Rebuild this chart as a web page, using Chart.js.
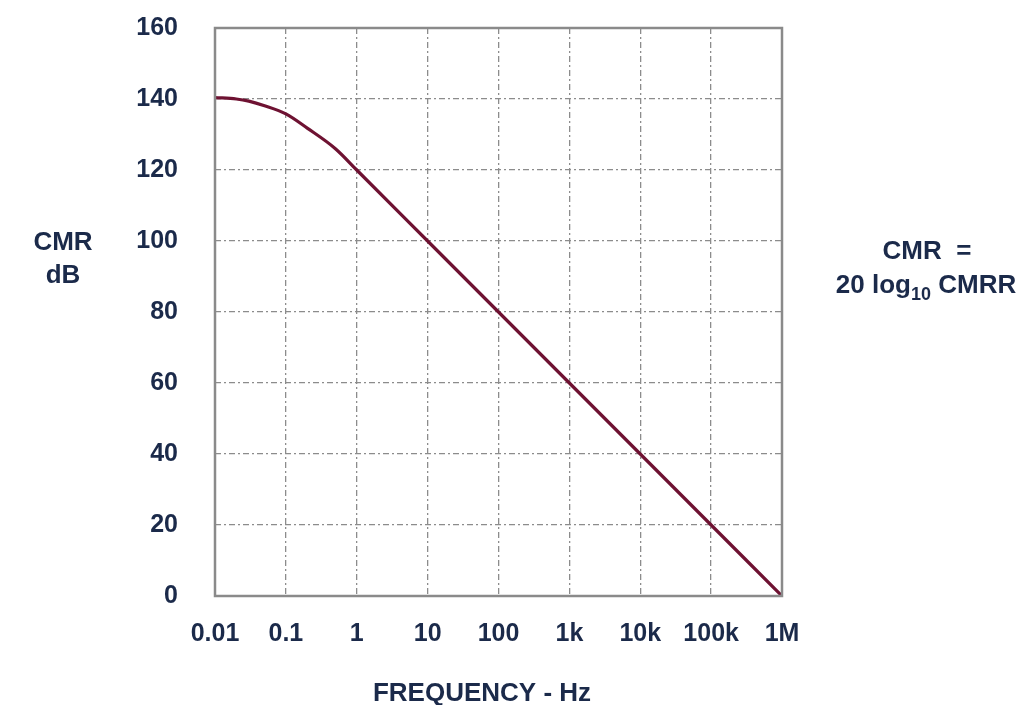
<!DOCTYPE html>
<html>
<head>
<meta charset="utf-8">
<script src="https://cdn.jsdelivr.net/npm/chart.js@4"></script>
<style>
  html, body { margin: 0; padding: 0; background: #fff; }
  #wrap { width: 1024px; height: 705px; }
</style>
</head>
<body>
<div id="wrap"><canvas id="chart" width="1024" height="705"></canvas></div>
<script>
// values
let freqHz = [0.01, 0.02, 0.03, 0.05, 0.1, 0.2, 0.5, 1, 10, 100, 1000, 10000, 100000, 1000000];
let cmrDb = [140.4, 140, 139.4, 138.1, 135.8, 131.8, 126, 120, 100, 80, 60, 40, 20, 0];

let decadeTicks = [0.01, 0.1, 1, 10, 100, 1000, 10000, 100000, 1000000];
let decadeLabels = ["0.01", "0.1", "1", "10", "100", "1k", "10k", "100k", "1M"];

let textColor = "#1b2a4a";
let lineColor = "#6e1232";
let gridColor = "#8c8c8c";
let font = "'Liberation Sans', Arial, sans-serif";

let data = freqHz.map((f, i) => ({ x: f, y: cmrDb[i] }));

// frame round the plot and the loose labels
let extras = {
  id: "extras",
  afterDraw(chart) {
    let ctx = chart.ctx;
    let a = chart.chartArea;
    ctx.save();
    ctx.strokeStyle = "#8a8a8a";
    ctx.lineWidth = 2.5;
    ctx.strokeRect(a.left, a.top, a.right - a.left, a.bottom - a.top);

    ctx.fillStyle = textColor;
    ctx.font = "bold 26px " + font;
    ctx.textAlign = "center";
    ctx.textBaseline = "middle";
    ctx.fillText("CMR", 63, 243);
    ctx.fillText("dB", 63, 276);
    ctx.fillText("FREQUENCY - Hz", 482, 694);
    ctx.fillText("CMR  =", 927, 252);

    // 20 log10 CMRR with a subscript
    let p1 = "20 log", sub = "10", p2 = " CMRR";
    let w1 = ctx.measureText(p1).width;
    let w2 = ctx.measureText(p2).width;
    ctx.font = "bold 18px " + font;
    let ws = ctx.measureText(sub).width;
    let x0 = 926 - (w1 + ws + w2) / 2;
    ctx.textAlign = "left";
    ctx.font = "bold 26px " + font;
    ctx.fillText(p1, x0, 286);
    ctx.font = "bold 18px " + font;
    ctx.fillText(sub, x0 + w1, 295);
    ctx.font = "bold 26px " + font;
    ctx.fillText(p2, x0 + w1 + ws, 286);
    ctx.restore();
  }
};

let el = document.getElementById("chart");
let ctx = el.getContext("2d");
let myChart = new Chart(ctx, {
  type: "line",
  data: {
    datasets: [
      {
        label: "CMR",
        borderColor: lineColor,
        backgroundColor: lineColor,
        borderWidth: 3.2,
        pointRadius: 0,
        cubicInterpolationMode: "monotone",
        data: data,
      },
    ],
  },
  options: {
    responsive: false,
    animation: false,
    layout: { padding: { top: 28, right: 242, bottom: 0, left: 0 } },
    plugins: { legend: { display: false }, tooltip: { enabled: false } },
    scales: {
      x: {
        type: "logarithmic",
        min: 0.01,
        max: 1000000,
        afterBuildTicks: (s) => { s.ticks = decadeTicks.map((v) => ({ value: v })); },
        afterFit: (s) => { s.height = 109; },
        border: { display: false, dash: [6, 3, 2, 3] },
        grid: { color: gridColor, lineWidth: 1.3, drawTicks: false },
        ticks: {
          color: textColor,
          font: { family: font, size: 25, weight: "bold" },
          padding: 23,
          maxRotation: 0,
          autoSkip: false,
          callback: (v, i) => decadeLabels[i],
        },
      },
      y: {
        min: 0,
        max: 160,
        afterFit: (s) => { s.width = 215; s.paddingTop = 0; s.paddingBottom = 0; },
        border: { display: false, dash: [6, 3, 2, 3] },
        grid: { color: gridColor, lineWidth: 1.3, drawTicks: false },
        ticks: {
          stepSize: 20,
          color: textColor,
          font: { family: font, size: 25, weight: "bold" },
          padding: 37,
        },
      },
    },
  },
  plugins: [extras],
});
</script>
</body>
</html>
